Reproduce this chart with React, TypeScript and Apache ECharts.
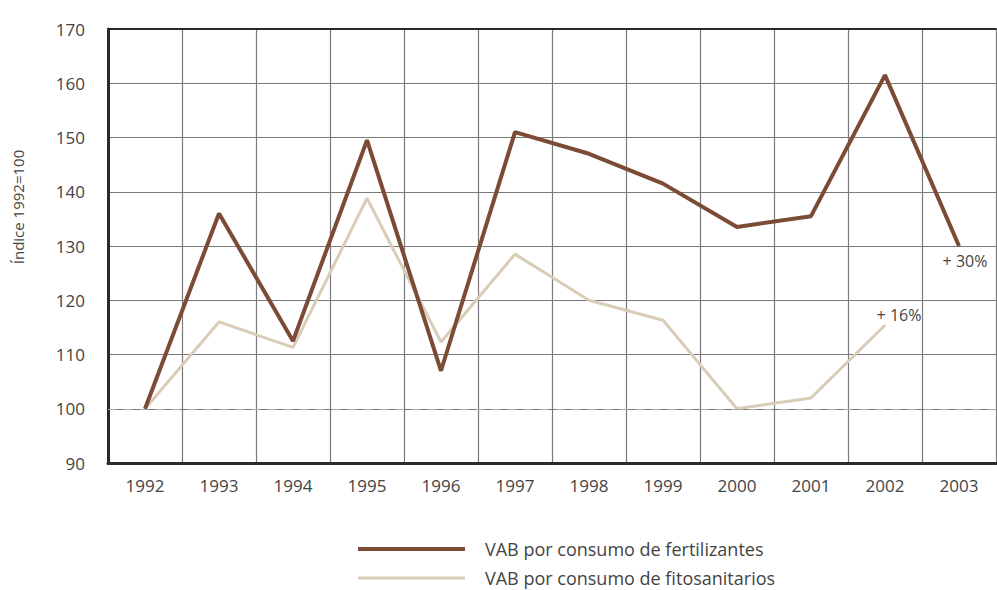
import React, { useEffect, useRef } from "react";
import * as echarts from "echarts";

const years = ["1992", "1993", "1994", "1995", "1996", "1997", "1998", "1999", "2000", "2001", "2002", "2003"];
const fertilizantes = [100, 136, 112.5, 149.5, 107, 151, 147, 141.5, 133.5, 135.5, 161.5, 130];
const fitosanitarios = [100, 116, 111.3, 138.8, 112.3, 128.5, 120, 116.3, 100, 102, 115.4, null];
const yTicks = { min: 90, max: 170, interval: 10 };
const seriesNames = ["VAB por consumo de fertilizantes", "VAB por consumo de fitosanitarios"];
const yAxisTitle = "Índice 1992=100";
const annotations = ["+ 30%", "+ 16%"];

const FONT = "'Open Sans', 'Noto Sans', sans-serif";
const TXT = "#444444";
const COLORS = ["#7b4b35", "#d9cdb8"];
const WIDTHS = [4, 3];

export default function App() {
  const ref = useRef<HTMLDivElement>(null);
  useEffect(() => {
    document.body.style.margin = "0";
    document.body.style.overflow = "hidden";
    const chart = echarts.init(ref.current!, null, { renderer: "svg" });
    const lbl = (text: string, extra: any) => ({
      show: true,
      formatter: text,
      color: TXT,
      fontSize: 16,
      fontFamily: FONT,
      ...extra,
    });
    const fertData = fertilizantes.map((v, i) =>
      i === fertilizantes.length - 1
        ? { value: v, label: lbl(annotations[0], { position: "bottom", distance: 6, offset: [6, 0] }) }
        : v
    );
    const lastFito = fitosanitarios.findIndex((v) => v === null) - 1;
    const fitoData = fitosanitarios.map((v, i) =>
      i === lastFito ? { value: v, label: lbl(annotations[1], { position: "top", distance: 2, offset: [14, 0] }) } : v
    );
    const legendGraphics: any[] = [];
    seriesNames.forEach((name, i) => {
      const y = 549 + i * 29;
      legendGraphics.push({
        type: "line",
        shape: { x1: 358, y1: y, x2: 465, y2: y },
        style: { stroke: COLORS[i], lineWidth: WIDTHS[i] },
      });
      legendGraphics.push({
        type: "text",
        x: 485,
        y: y,
        style: { text: name, fill: TXT, fontSize: 18, fontFamily: FONT, verticalAlign: "middle" },
      });
    });
    chart.setOption({
      animation: false,
      grid: { left: 108, top: 29, right: 1, bottom: 127, containLabel: false },
      xAxis: [
        {
          type: "category",
          data: years,
          boundaryGap: true,
          axisLine: { lineStyle: { color: "#2a2a2a", width: 3 } },
          axisTick: { show: false },
          axisLabel: { color: TXT, fontSize: 17, fontFamily: FONT, margin: 14 },
          splitLine: { show: true, interval: 0, lineStyle: { color: "#7a7a7a", width: 1.2 } },
        },
        {
          type: "category",
          data: years,
          position: "top",
          axisLine: { lineStyle: { color: "#2a2a2a", width: 2 } },
          axisTick: { show: false },
          axisLabel: { show: false },
          splitLine: { show: false },
        },
      ],
      yAxis: {
        type: "value",
        min: yTicks.min,
        max: yTicks.max,
        interval: yTicks.interval,
        axisLine: { show: true, lineStyle: { color: "#2a2a2a", width: 3 } },
        axisTick: { show: false },
        axisLabel: { color: TXT, fontSize: 17, fontFamily: FONT, margin: 23 },
        splitLine: { show: true, lineStyle: { color: "#7a7a7a", width: 1.2 } },
      },
      graphic: [
        {
          type: "text",
          x: 18,
          y: 207,
          rotation: Math.PI / 2,
          style: { text: yAxisTitle, fill: TXT, fontSize: 15, fontFamily: FONT, align: "center", verticalAlign: "middle" },
        },
        ...legendGraphics,
      ],
      series: [
        {
          name: seriesNames[1],
          type: "line",
          data: fitoData,
          showSymbol: true,
          symbol: "circle",
          symbolSize: 1,
          lineStyle: { color: COLORS[1], width: WIDTHS[1] },
          itemStyle: { color: COLORS[1] },
          z: 3,
        },
        {
          name: seriesNames[0],
          type: "line",
          data: fertData,
          showSymbol: true,
          symbol: "circle",
          symbolSize: 1,
          lineStyle: { color: COLORS[0], width: WIDTHS[0] },
          itemStyle: { color: COLORS[0] },
          z: 4,
          markLine: {
            silent: true,
            symbol: "none",
            label: { show: false },
            lineStyle: { color: "#a8a8a8", type: [8, 8], width: 1.2 },
            data: [{ yAxis: 100 }],
          },
        },
      ],
    });
    return () => chart.dispose();
  }, []);
  return <div ref={ref} style={{ position: "absolute", left: 0, top: 0, width: 997, height: 590 }} />;
}
